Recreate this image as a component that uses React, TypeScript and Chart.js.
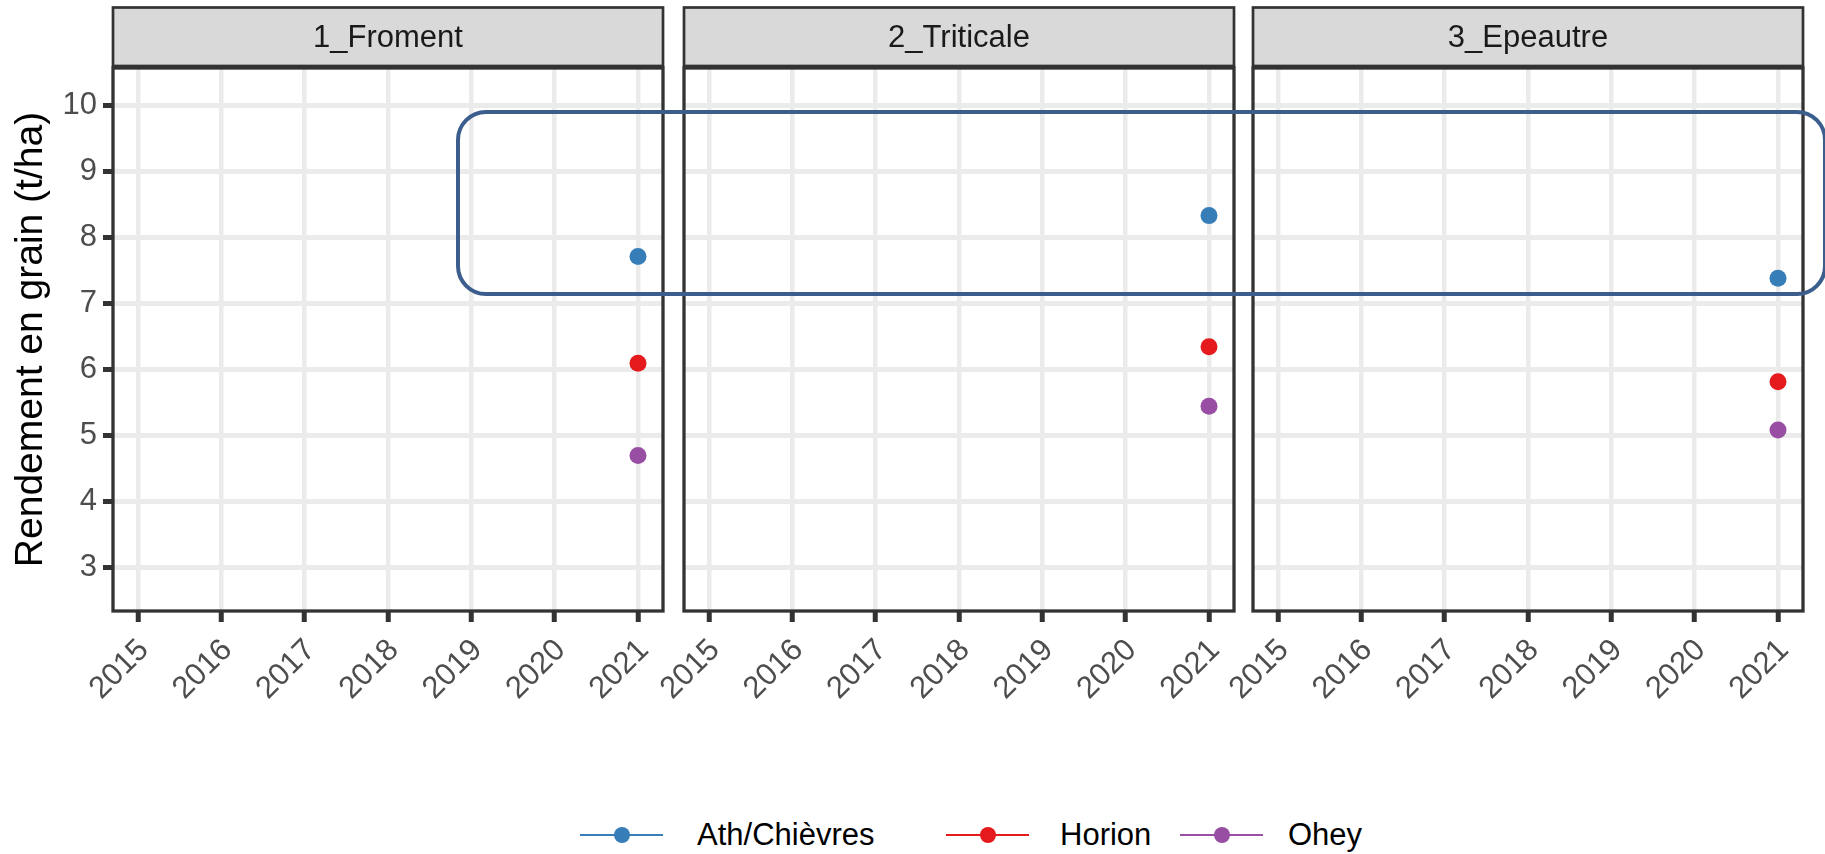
import React, { useEffect, useRef } from 'react';
import { Chart, registerables } from 'chart.js';

Chart.register(...registerables);

// ---- data ----
const panelTitles = ['1_Froment', '2_Triticale', '3_Epeautre'];
const siteNames = ['Ath/Chièvres', 'Horion', 'Ohey'];
const siteColors = ['#377EB8', '#E41A1C', '#984EA3'];
const observedYear = 2021;
const athValues = [7.71, 8.33, 7.38];
const horionValues = [6.09, 6.34, 5.81];
const oheyValues = [4.69, 5.44, 5.08];
const xTickYears = [2015, 2016, 2017, 2018, 2019, 2020, 2021];
const yTickValues = [3, 4, 5, 6, 7, 8, 9, 10];
const xRange = [2014.7, 2021.3];
const yRange = [2.333, 10.569];
const yAxisTitle = 'Rendement en grain (t/ha)';

// ---- layout ----
const FONT = '"Liberation Sans", Arial, Helvetica, sans-serif';
const PANEL_LEFTS = [113, 684, 1253];
const PANEL_W = 550;
const PLOT_TOP = 68;
const PLOT_BOTTOM = 611;
const STRIP_TOP = 7.5;
const CANVAS_H = 760;
const X_AXIS_H = 110;
const RIGHT_PAD = 20;
const LEGEND_Y = 835;
const LEGEND_LINE_X = [580, 946, 1180];
const LEGEND_TEXT_X = [697, 1060, 1288];
const LEGEND_LINE_W = 83;
const TEXT_SIZE = 31;

const seriesValues = [athValues, horionValues, oheyValues];

function makeDecor(title: string) {
  return {
    id: 'panelDecor',
    afterDatasetsDraw(chart: any) {
      const { ctx, chartArea } = chart;
      const { left, right, top, bottom } = chartArea;
      ctx.save();
      // strip
      ctx.fillStyle = '#D9D9D9';
      ctx.fillRect(left, STRIP_TOP, right - left, top - 2 - STRIP_TOP);
      ctx.strokeStyle = '#333333';
      ctx.lineWidth = 2.7;
      ctx.strokeRect(left, STRIP_TOP, right - left, top - 2 - STRIP_TOP);
      ctx.fillStyle = '#1A1A1A';
      ctx.font = `${TEXT_SIZE}px ${FONT}`;
      ctx.textAlign = 'center';
      ctx.textBaseline = 'middle';
      ctx.fillText(title, (left + right) / 2, (STRIP_TOP + top) / 2 + 1);
      // panel border
      ctx.lineWidth = 3.3;
      ctx.strokeRect(left, top, right - left, bottom - top);
      ctx.restore();
    },
  };
}

function Panel({ index }: { index: number }) {
  const ref = useRef<HTMLCanvasElement | null>(null);
  const yW = index === 0 ? PANEL_LEFTS[0] : 0;
  const padLeft = index === 0 ? 0 : 40;
  const canvasLeft = PANEL_LEFTS[index] - yW - padLeft;
  const canvasW = yW + padLeft + PANEL_W + RIGHT_PAD;
  const padBottom = CANVAS_H - PLOT_BOTTOM - X_AXIS_H;

  useEffect(() => {
    if (!ref.current) return;
    const datasets = siteNames.map((name, s) => ({
      label: name,
      data: [{ x: observedYear, y: seriesValues[s][index] }],
      borderColor: siteColors[s],
      backgroundColor: siteColors[s],
      pointBackgroundColor: siteColors[s],
      pointBorderWidth: 0,
      pointRadius: 8.5,
      borderWidth: 2,
      showLine: true,
    }));
    const chart = new Chart(ref.current, {
      type: 'line',
      data: { datasets },
      options: {
        responsive: false,
        animation: false,
        devicePixelRatio: 1,
        layout: { padding: { left: padLeft, right: RIGHT_PAD, top: PLOT_TOP, bottom: padBottom } },
        plugins: { legend: { display: false }, tooltip: { enabled: false } },
        scales: {
          x: {
            type: 'linear',
            min: xRange[0],
            max: xRange[1],
            afterFit: (s: any) => { s.height = X_AXIS_H; },
            afterBuildTicks: (s: any) => { s.ticks = xTickYears.map((v) => ({ value: v })); },
            grid: { color: '#EBEBEB', lineWidth: 4.5, drawTicks: true, tickLength: 11, tickColor: '#333333', tickWidth: 5 },
            border: { display: false },
            ticks: {
              stepSize: 1,
              includeBounds: false,
              autoSkip: false,
              minRotation: 45,
              maxRotation: 45,
              padding: 10,
              labelOffset: 6,
              color: '#4D4D4D',
              font: { family: FONT, size: TEXT_SIZE },
              callback: (v: any) => String(v),
            },
          },
          y: {
            type: 'linear',
            min: yRange[0],
            max: yRange[1],
            afterFit: (s: any) => { s.width = yW; },
            afterBuildTicks: (s: any) => { s.ticks = yTickValues.map((v) => ({ value: v })); },
            grid: { color: '#EBEBEB', lineWidth: 5, drawTicks: index === 0, tickLength: 10, tickColor: '#333333', tickWidth: 5 },
            border: { display: false },
            title: {
              display: index === 0,
              text: yAxisTitle,
              color: '#000000',
              font: { family: FONT, size: 39 },
              padding: { top: 8, bottom: 0 },
            },
            ticks: {
              display: index === 0,
              stepSize: 1,
              includeBounds: false,
              padding: 6,
              color: '#4D4D4D',
              font: { family: FONT, size: TEXT_SIZE },
              callback: (v: any) => String(v),
            },
          },
        },
      },
      plugins: [makeDecor(panelTitles[index])],
    } as any);
    return () => chart.destroy();
  }, [index]);

  return (
    <canvas
      ref={ref}
      width={canvasW}
      height={CANVAS_H}
      style={{ position: 'absolute', left: canvasLeft, top: 0, width: canvasW, height: CANVAS_H }}
    />
  );
}

export default function App() {
  return (
    <div
      style={{
        position: 'absolute',
        left: 0,
        top: 0,
        width: 1825,
        height: 854,
        overflow: 'hidden',
        background: '#FFFFFF',
        fontFamily: FONT,
      }}
    >
      {panelTitles.map((_, i) => (
        <Panel key={i} index={i} />
      ))}
      <div
        style={{
          position: 'absolute',
          left: 455.5,
          top: 109.5,
          width: 1371,
          height: 186,
          boxSizing: 'border-box',
          border: '4.5px solid #3C5E8D',
          borderRadius: 30,
          pointerEvents: 'none',
        }}
      />
      {siteNames.map((name, s) => (
        <React.Fragment key={name}>
          <div
            style={{
              position: 'absolute',
              left: LEGEND_LINE_X[s],
              top: LEGEND_Y - 1,
              width: LEGEND_LINE_W,
              height: 2,
              background: siteColors[s],
            }}
          />
          <div
            style={{
              position: 'absolute',
              left: LEGEND_LINE_X[s] + LEGEND_LINE_W / 2 - 8,
              top: LEGEND_Y - 8,
              width: 16,
              height: 16,
              borderRadius: '50%',
              background: siteColors[s],
            }}
          />
          <div
            style={{
              position: 'absolute',
              left: LEGEND_TEXT_X[s],
              top: LEGEND_Y - 20,
              height: 40,
              lineHeight: '40px',
              fontSize: TEXT_SIZE,
              color: '#000000',
              whiteSpace: 'nowrap',
            }}
          >
            {name}
          </div>
        </React.Fragment>
      ))}
    </div>
  );
}
